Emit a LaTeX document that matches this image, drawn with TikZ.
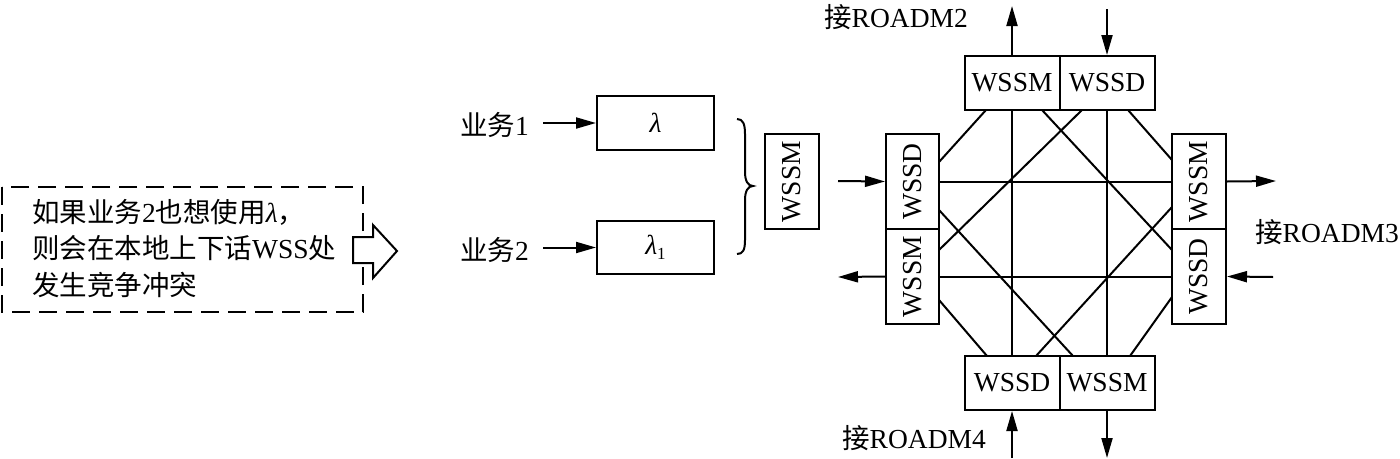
\documentclass[tikz,border=0pt]{standalone}
\usepackage{fontspec}
\setmainfont{Liberation Serif}
\newfontfamily\cjk{Noto Sans CJK SC}
\usetikzlibrary{arrows.meta}
\begin{document}
\begin{tikzpicture}[x=1pt,y=-1pt,
  every node/.style={font=\fontsize{27.5}{36}\selectfont},
  box/.style={draw,line width=2pt,inner sep=0pt,minimum width=#1},
  hbox/.style={box=95pt,minimum height=54pt},
  vbox/.style={box=53pt,minimum height=95pt},
  txt/.style={inner sep=0pt},
  ln/.style={line width=2pt},
  arr/.style={line width=2pt,-{Triangle[length=20pt,width=11pt]}}]
\useasboundingbox (0,0) rectangle (1400,458);

% dashed note
\draw[ln,dash pattern=on 18pt off 9pt] (2,187) rectangle (363,312);
\node[txt,anchor=west] (t1) at (32,212) {{\cjk 如果业务}2{\cjk 也想使用}{\itshape λ}{\cjk ，}};
\node[txt,anchor=west] (t2) at (32,248) {{\cjk 则会在本地上下话}WSS{\cjk 处}};
\node[txt,anchor=west] (t3) at (32,285) {{\cjk 发生竞争冲突}};
\draw[ln,fill=white] (353,237) -- (373,237) -- (373,225) -- (397,251) -- (373,278) -- (373,263) -- (353,263) -- cycle;

% services
\node[box=117pt,minimum height=54pt] (lam) at (655.5,123) {{\itshape λ}};
\node[box=117pt,minimum height=53pt] (lam1) at (655.5,247.5) {{\itshape λ}\raisebox{-0.35ex}{\fontsize{17}{17}\selectfont 1}};
\node[txt,anchor=east] (s1) at (529,125) {{\cjk 业务}1};
\node[txt,anchor=east] (s2) at (529,250) {{\cjk 业务}2};
\draw[arr] ([xshift=14pt]s1.east |- lam.west) -- (lam.west);
\draw[arr] ([xshift=14pt]s2.east |- lam1.west) -- (lam1.west);
\draw[ln] (737,119) .. controls (743,119) and (745,124) .. (745,134) -- (745,172)
  .. controls (745,181) and (748,186) .. (753,186)
  .. controls (748,186) and (745,191) .. (745,200) -- (745,240)
  .. controls (745,250) and (743,254) .. (737,254);
\node[box=54pt,minimum height=95pt] (ws) at (792,181.5) {\rotatebox{90}{WSSM}};

% ROADM boxes
\node[hbox] (tM) at (1012,83) {WSSM};
\node[hbox] (tD) at (1107,83) {WSSD};
\node[hbox] (bD) at (1012,383) {WSSD};
\node[hbox] (bM) at (1107,383) {WSSM};
\node[vbox] (lD) at (912.5,181.5) {\rotatebox{90}{WSSD}};
\node[vbox] (lM) at (912.5,276.5) {\rotatebox{90}{WSSM}};
\node[box=54pt,minimum height=95pt] (rM) at (1199,181.5) {\rotatebox{90}{WSSM}};
\node[box=54pt,minimum height=95pt] (rD) at (1199,276.5) {\rotatebox{90}{WSSD}};

% straight connections
\draw[ln] (tM.south) -- (bD.north);
\draw[ln] (tD.south) -- (bM.north);
\draw[ln] (lD.east) -- (rM.west);
\draw[ln] (lM.east) -- (rD.west);

% diagonal connections
\coordinate (a1) at (986,110);  \coordinate (a2) at (939,162);
\coordinate (b1) at (1042,110); \coordinate (b2) at (1172,250);
\coordinate (c1) at (1082,110); \coordinate (c2) at (939,250);
\coordinate (d1) at (1128,110); \coordinate (d2) at (1172,160);
\coordinate (e1) at (939,300);  \coordinate (e2) at (987,356);
\coordinate (f1) at (939,210);  \coordinate (f2) at (1073,356);
\coordinate (g1) at (1036,356); \coordinate (g2) at (1172,207);
\coordinate (h1) at (1130,356); \coordinate (h2) at (1172,297);
\draw[ln] (a1) -- (a2);
\draw[ln] (b1) -- (b2);
\draw[ln] (c1) -- (c2);
\draw[ln] (d1) -- (d2);
\draw[ln] (e1) -- (e2);
\draw[ln] (f1) -- (f2);
\draw[ln] (g1) -- (g2);
\draw[ln] (h1) -- (h2);

% external arrows
\coordinate (upT) at (1012,6);
\coordinate (dnT) at (1107,9);
\coordinate (inL) at (838,181);
\coordinate (outL) at (838,277);
\coordinate (outR) at (1276,181);
\coordinate (inR) at (1273,277);
\coordinate (inB) at (1012,458);
\coordinate (outB) at (1107,458);
\draw[arr] (tM.north) -- (upT);
\draw[arr] (dnT) -- (tD.north);
\draw[arr] (inL) -- (lD.west);
\draw[arr] (lM.west) -- (outL);
\draw[arr] (rM.east) -- (outR);
\draw[arr] (inR) -- (rD.east);
\draw[arr] (inB) -- (bD.south);
\draw[arr] (bM.south) -- (outB);

\node[txt,anchor=west] (r2) at (824,17) {{\cjk 接}ROADM2};
\node[txt,anchor=west] (r3) at (1255,232) {{\cjk 接}ROADM3};
\node[txt,anchor=west] (r4) at (842,438) {{\cjk 接}ROADM4};
\end{tikzpicture}
\end{document}
